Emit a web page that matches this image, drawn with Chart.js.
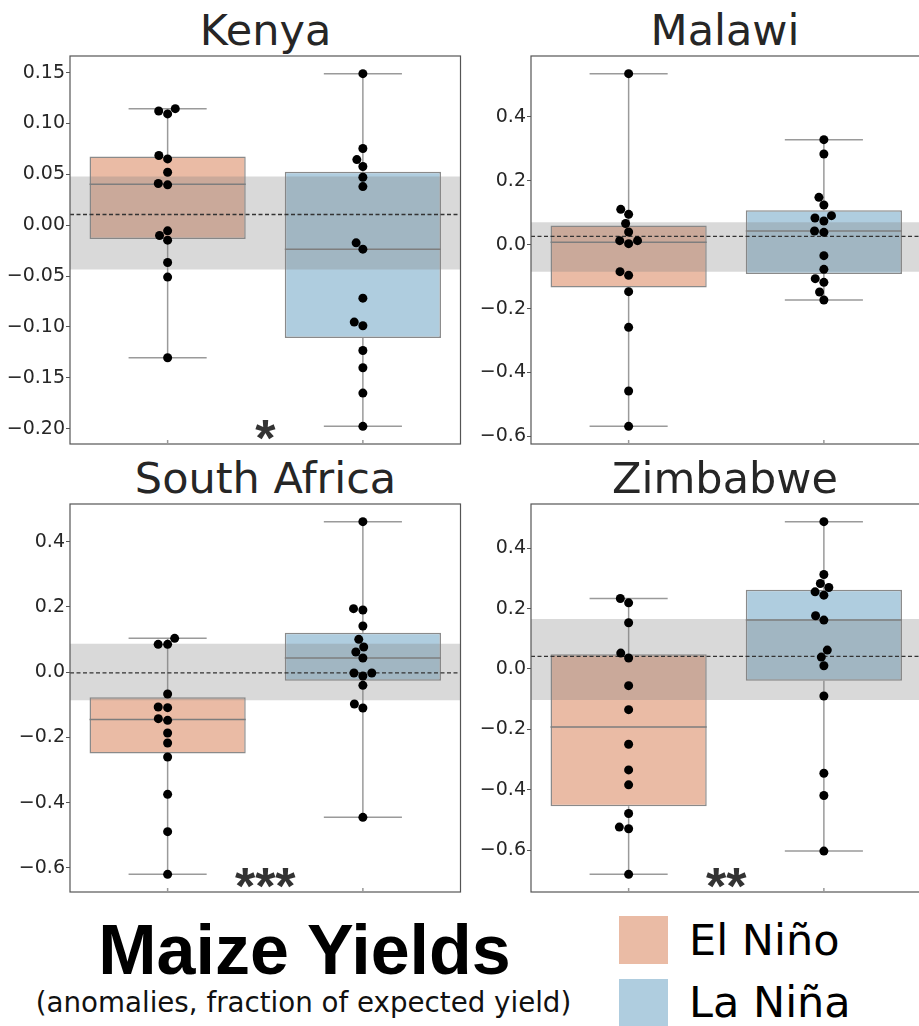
<!DOCTYPE html>
<html>
<head>
<meta charset="utf-8">
<script src="https://cdn.jsdelivr.net/npm/chart.js@4.4.1/dist/chart.umd.min.js"></script>
<style>
html,body{margin:0;padding:0;background:#fff;overflow:hidden;}
#page{position:relative;width:919px;height:1026px;overflow:hidden;background:#fff;}
.cv{position:absolute;}
.cv canvas{display:block;}
.ttl{position:absolute;font-family:"DejaVu Sans";font-size:43px;line-height:43px;color:#262626;text-align:center;white-space:nowrap;}
#main{position:absolute;left:0;width:609px;top:915px;font-family:"Liberation Sans",Arial,sans-serif;font-weight:bold;font-size:70px;line-height:70px;color:#000;text-align:center;white-space:nowrap;}
#sub{position:absolute;left:0;width:607px;top:989.3px;font-family:"DejaVu Sans";font-size:27.7px;line-height:27.7px;color:#111;text-align:center;white-space:nowrap;}
.sw{position:absolute;left:619px;width:49px;height:48px;}
.lg{position:absolute;left:689px;font-family:"DejaVu Sans";font-size:43px;line-height:43px;color:#000;white-space:nowrap;}
</style>
</head>
<body>
<div id="page"></div>
<script>
// ---------------- data ----------------
const countries = ['Kenya', 'Malawi', 'South Africa', 'Zimbabwe'];
const phases = ['El Niño', 'La Niña'];

const kenyaElNino = [0.1146, 0.1123, 0.1094, 0.0685, 0.0652, 0.0521, 0.0410, 0.0397, -0.0055, -0.0101, -0.0147, -0.0366, -0.0510, -0.1303];
const kenyaLaNina = [0.1490, 0.0754, 0.0645, 0.0577, 0.0472, 0.0380, -0.0173, -0.0235, -0.0717, -0.0952, -0.0988, -0.1231, -0.1401, -0.1650, -0.1977];
const malawiElNino = [0.5357, 0.1108, 0.0952, 0.0665, 0.0398, 0.0127, 0.0127, 0.0033, -0.0844, -0.0959, -0.1471, -0.2588, -0.4582, -0.5688];
const malawiLaNina = [0.3290, 0.2841, 0.1484, 0.1244, 0.0910, 0.0837, 0.0743, 0.0430, 0.0388, -0.0343, -0.0771, -0.1063, -0.1178, -0.1481, -0.1732];
const southAfricaElNino = [0.1038, 0.0854, 0.0854, -0.0668, -0.1067, -0.1087, -0.1424, -0.1475, -0.1863, -0.2170, -0.2599, -0.3743, -0.4887, -0.6195];
const southAfricaLaNina = [0.4613, 0.1947, 0.1906, 0.1416, 0.1007, 0.0772, 0.0619, 0.0435, -0.0025, -0.0025, -0.0117, -0.0403, -0.0975, -0.1097, -0.4448];
const zimbabweElNino = [0.2335, 0.2192, 0.1530, 0.0527, 0.0362, -0.0553, -0.1347, -0.2494, -0.3343, -0.3839, -0.4787, -0.5239, -0.5294, -0.6805];
const zimbabweLaNina = [0.4882, 0.3129, 0.2831, 0.2699, 0.2556, 0.2445, 0.1762, 0.1619, 0.0626, 0.0395, 0.0108, -0.0895, -0.3453, -0.4191, -0.6033];

// neutral-year reference band and line (per country)
const bandLow = [-0.0435, -0.0844, -0.0862, -0.1027];
const bandHigh = [0.0479, 0.0701, 0.0874, 0.1652];
const refLine = [0.0105, 0.0262, -0.0020, 0.0417];
const significance = ['*', '', '***', '**'];

const kenyaTicks = [-0.20, -0.15, -0.10, -0.05, 0.00, 0.05, 0.10, 0.15];
const otherTicks = [-0.6, -0.4, -0.2, 0.0, 0.2, 0.4];
const tickDecimals = [2, 1, 1, 1];

// ---------------- styling / layout ----------------
const panelData = [
  [kenyaElNino, kenyaLaNina],
  [malawiElNino, malawiLaNina],
  [southAfricaElNino, southAfricaLaNina],
  [zimbabweElNino, zimbabweLaNina]
];
const panelTicks = [kenyaTicks, otherTicks, otherTicks, otherTicks];
const phaseColors = ['#EABBA5', '#AFCDDF'];
const layoutBoxes = [
  {left: 0, top: 50, w: 465, h: 400, yw: 70, pad: {top: 6, bottom: 6, left: 0, right: 4}, titleTop: 8.6, titleShift: 0},
  {left: 460, top: 50, w: 466, h: 400, yw: 71, pad: {top: 6, bottom: 6, left: 0, right: 4}, titleTop: 8.6, titleShift: -1.5},
  {left: 0, top: 498, w: 465, h: 400, yw: 70, pad: {top: 6, bottom: 6, left: 0, right: 4}, titleTop: 456.6, titleShift: 0},
  {left: 460, top: 498, w: 466, h: 400, yw: 71, pad: {top: 6, bottom: 6, left: 0, right: 4}, titleTop: 456.6, titleShift: -1.5}
];
const BOX_HALF = 0.4, CAP_HALF = 0.2, DOT_R = 4.5;

const page = document.getElementById('page');

function quantile(sorted, p) {
  const pos = (sorted.length - 1) * p;
  const lo = Math.floor(pos), hi = Math.ceil(pos);
  return sorted[lo] + (sorted[hi] - sorted[lo]) * (pos - lo);
}
function fmt(v, d) {
  let s = Math.abs(v) < 1e-9 ? (0).toFixed(d) : v.toFixed(d);
  return s.replace('-', '\u2212');
}
// seaborn-like beeswarm: returns pixel x offsets
function swarmOffsets(values, yScale, r) {
  const order = values.map((v, i) => i).sort((a, b) => values[a] - values[b]);
  const placed = [];
  const out = new Array(values.length).fill(0);
  const d = 2 * r;
  for (const k of order) {
    const yi = -yScale.getPixelForValue(values[k]);
    if (!placed.length) { placed.push({x: 0, y: yi}); out[k] = 0; continue; }
    const nb = [];
    for (let j = placed.length - 1; j >= 0; j--) {
      if (yi - placed[j].y < d) nb.push(placed[j]); else break;
    }
    const cands = [{x: 0}];
    let leftFirst = true;
    for (const n of nb) {
      const dy = yi - n.y;
      const dx = Math.sqrt(Math.max(d * d - dy * dy, 0)) * 1.05;
      const cl = {x: n.x - dx}, cr = {x: n.x + dx};
      if (leftFirst) cands.push(cl, cr); else cands.push(cr, cl);
      leftFirst = !leftFirst;
    }
    cands.sort((a, b) => Math.abs(a.x) - Math.abs(b.x));
    let chosen = cands[0];
    for (const c of cands) {
      let ok = true;
      for (const n of nb) {
        const ddx = n.x - c.x, ddy = n.y - yi;
        if (ddx * ddx + ddy * ddy < d * d - 1e-9) { ok = false; break; }
      }
      if (ok) { chosen = c; break; }
    }
    placed.push({x: chosen.x, y: yi});
    out[k] = chosen.x;
  }
  return out;
}

const framePlugin = {
  id: 'frame',
  afterDatasetsDraw(chart, args, opts) {
    const {ctx, chartArea: a} = chart;
    const xs = chart.scales.x;
    ctx.save();
    ctx.strokeStyle = '#555';
    ctx.lineWidth = 1.2;
    ctx.strokeRect(a.left, a.top, a.right - a.left, a.bottom - a.top);
    ctx.strokeStyle = '#999';
    ctx.lineWidth = 1.5;
    phases.forEach((p, i) => {
      const px = xs.getPixelForValue(i);
      ctx.beginPath(); ctx.moveTo(px, a.bottom); ctx.lineTo(px, a.bottom - 4); ctx.stroke();
    });
    if (opts.sig) {
      ctx.font = 'bold 52px "Liberation Sans", Arial, sans-serif';
      ctx.fillStyle = '#333';
      ctx.textAlign = 'center';
      ctx.textBaseline = 'alphabetic';
      ctx.fillText(opts.sig, xs.getPixelForValue(0.5), a.bottom + 12);
    }
    ctx.restore();
  }
};

countries.forEach((name, p) => {
  const L = layoutBoxes[p];
  // title
  const t = document.createElement('div');
  t.className = 'ttl';
  t.textContent = name;
  t.style.left = (L.left + L.yw + L.titleShift) + 'px';
  t.style.width = (L.w - L.yw - L.pad.right) + 'px';
  t.style.top = L.titleTop + 'px';
  page.appendChild(t);

  const wrap = document.createElement('div');
  wrap.className = 'cv';
  wrap.style.left = L.left + 'px';
  wrap.style.top = L.top + 'px';
  wrap.style.width = L.w + 'px';
  wrap.style.height = L.h + 'px';
  const cv = document.createElement('canvas');
  cv.width = L.w; cv.height = L.h;
  cv.style.width = L.w + 'px'; cv.style.height = L.h + 'px';
  wrap.appendChild(cv);
  page.appendChild(wrap);

  const groups = panelData[p];
  const stats = groups.map(g => {
    const s = [...g].sort((a, b) => a - b);
    return {min: s[0], q1: quantile(s, 0.25), med: quantile(s, 0.5), q3: quantile(s, 0.75), max: s[s.length - 1]};
  });
  const all = groups.flat();
  const dmin = Math.min(...all), dmax = Math.max(...all);
  const span = dmax - dmin;
  const yMin = dmin - 0.05 * span, yMax = dmax + 0.05 * span;

  const medianData = [], whiskerData = [];
  stats.forEach((s, i) => {
    medianData.push({x: i - BOX_HALF, y: s.med}, {x: i + BOX_HALF, y: s.med}, {x: i, y: null});
    whiskerData.push(
      {x: i, y: s.min}, {x: i, y: s.q1}, {x: i, y: null},
      {x: i, y: s.q3}, {x: i, y: s.max}, {x: i, y: null},
      {x: i - CAP_HALF, y: s.min}, {x: i + CAP_HALF, y: s.min}, {x: i, y: null},
      {x: i - CAP_HALF, y: s.max}, {x: i + CAP_HALF, y: s.max}, {x: i, y: null}
    );
  });

  const pointSets = groups.map((g, i) => ({
    type: 'scatter',
    label: phases[i],
    data: g.map(v => ({x: i, y: v})),
    pointRadius: DOT_R,
    pointHoverRadius: DOT_R,
    backgroundColor: '#000',
    borderWidth: 0,
    order: 0
  }));

  const ticks = panelTicks[p];
  const dec = tickDecimals[p];

  const chart = new Chart(cv, {
    type: 'scatter',
    data: {
      datasets: [
        {type: 'line', data: whiskerData, borderColor: '#9a9a9a', borderWidth: 1.5, pointRadius: 0, spanGaps: false, tension: 0, order: 14},
        {type: 'bar', data: stats.map((s, i) => ({x: i, y: [s.q1, s.q3]})), backgroundColor: phaseColors, borderColor: '#8a8a8a', borderWidth: 1.5, borderSkipped: false, barPercentage: 0.8, categoryPercentage: 1, order: 13},
        {type: 'line', data: medianData, borderColor: '#7d7d7d', borderWidth: 1.5, pointRadius: 0, spanGaps: false, order: 12},
        {type: 'line', data: [{x: -0.5, y: bandHigh[p]}, {x: 1.5, y: bandHigh[p]}], borderWidth: 0, borderColor: 'rgba(0,0,0,0)', pointRadius: 0, fill: false, order: 11},
        {type: 'line', data: [{x: -0.5, y: bandLow[p]}, {x: 1.5, y: bandLow[p]}], borderWidth: 0, borderColor: 'rgba(0,0,0,0)', pointRadius: 0, fill: '-1', backgroundColor: 'rgba(128,128,128,0.3)', order: 11},
        {type: 'line', data: [{x: -0.5, y: refLine[p]}, {x: 1.5, y: refLine[p]}], borderColor: '#333', borderWidth: 1.4, borderDash: [4, 2.5], pointRadius: 0, order: 8},
        ...pointSets
      ]
    },
    options: {
      responsive: false,
      animation: false,
      events: [],
      devicePixelRatio: 1,
      layout: {padding: L.pad},
      plugins: {legend: {display: false}, tooltip: {enabled: false}, title: {display: false}, frame: {sig: significance[p]}},
      scales: {
        x: {
          type: 'linear', display: false, min: -0.5, max: 1.5, offset: false,
          afterBuildTicks: s => { s.ticks = phases.map((ph, i) => ({value: i})); }
        },
        y: {
          type: 'linear', min: yMin, max: yMax,
          afterBuildTicks: s => { s.ticks = ticks.map(v => ({value: v})); },
          afterFit: s => { s.width = L.yw; s.paddingTop = 0; s.paddingBottom = 0; },
          grid: {display: true, drawOnChartArea: false, drawTicks: true, tickLength: 4, tickColor: '#555', tickWidth: 1},
          border: {display: false},
          ticks: {autoSkip: false, padding: 1, color: '#262626', font: {family: 'DejaVu Sans', size: 19}, callback: v => fmt(v, dec)}
        }
      }
    },
    plugins: [framePlugin]
  });

  // beeswarm layout computed from the chart's own scales
  const xs = chart.scales.x, ys = chart.scales.y;
  const unit = xs.getPixelForValue(1) - xs.getPixelForValue(0);
  groups.forEach((g, i) => {
    const off = swarmOffsets(g, ys, DOT_R);
    chart.data.datasets[6 + i].data = g.map((v, k) => ({x: i + off[k] / unit, y: v}));
  });
  chart.update('none');
});

// bottom title and legend
const main = document.createElement('div'); main.id = 'main'; main.textContent = 'Maize Yields'; page.appendChild(main);
const sub = document.createElement('div'); sub.id = 'sub'; sub.textContent = '(anomalies, fraction of expected yield)'; page.appendChild(sub);
const swTops = [916, 979], lgTops = [918.6, 980.9];
phases.forEach((ph, i) => {
  const s = document.createElement('div'); s.className = 'sw'; s.style.top = swTops[i] + 'px'; s.style.background = phaseColors[i]; page.appendChild(s);
  const l = document.createElement('div'); l.className = 'lg'; l.style.top = lgTops[i] + 'px'; l.textContent = ph; page.appendChild(l);
});
</script>
</body>
</html>
